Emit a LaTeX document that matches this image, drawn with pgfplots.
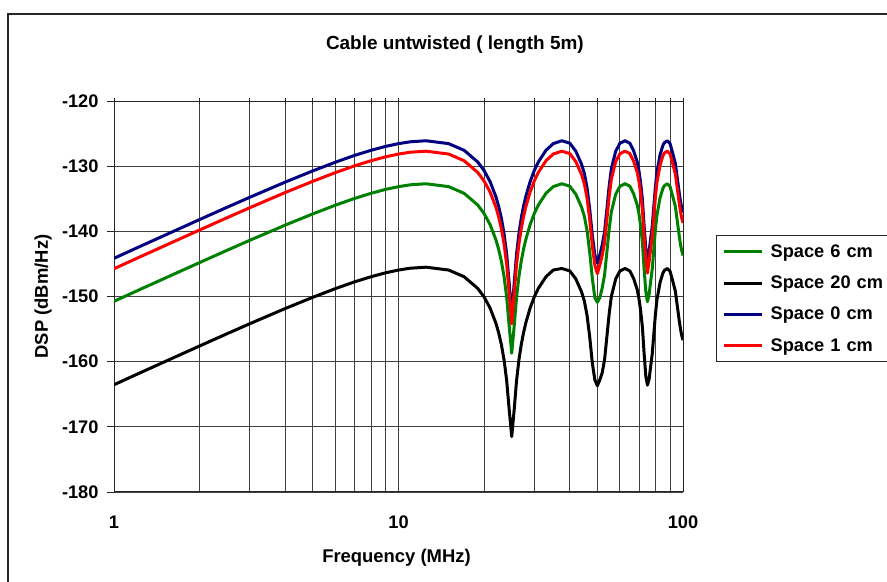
\documentclass[border=0pt]{standalone}
\usepackage{fontspec}
\setmainfont{Liberation Sans}
\usepackage{pgfplots}
\usepackage{pgfplotstable}
\pgfplotsset{compat=1.18}
\definecolor{cgreen}{RGB}{0,128,0}
\definecolor{cblue}{RGB}{0,0,128}
\definecolor{cred}{RGB}{255,0,0}

\pgfplotstableread{
f green black blue red
1 -150.74 -163.54 -144.14 -145.74
1.2 -149.16 -161.96 -142.56 -144.16
1.5 -147.25 -160.05 -140.65 -142.25
2 -144.79 -157.59 -138.19 -139.79
2.5 -142.90 -155.70 -136.30 -137.90
3 -141.38 -154.18 -134.78 -136.38
4 -139.04 -151.84 -132.44 -134.04
5 -137.32 -150.12 -130.72 -132.32
6 -135.99 -148.79 -129.39 -130.99
7 -134.96 -147.76 -128.36 -129.96
8 -134.17 -146.97 -127.57 -129.17
9 -133.57 -146.37 -126.97 -128.57
10 -133.14 -145.94 -126.54 -128.14
11 -132.86 -145.66 -126.26 -127.86
12.5 -132.70 -145.50 -126.10 -127.70
15 -133.14 -145.94 -126.54 -128.14
17 -134.16 -146.96 -127.56 -129.16
19 -135.97 -148.77 -129.37 -130.97
20 -137.28 -150.08 -130.68 -132.28
21 -139.00 -151.80 -132.40 -134.00
22 -141.30 -154.10 -134.70 -136.30
22.5 -142.79 -155.59 -136.19 -137.79
23 -144.61 -157.41 -138.01 -139.61
23.5 -146.95 -159.75 -140.35 -141.95
24 -150.09 -162.89 -143.49 -145.09
24.5 -154.60 -167.40 -148.00 -149.60
25 -158.70 -171.50 -153.00 -154.20
25.5 -154.60 -167.40 -148.00 -149.60
26 -150.09 -162.89 -143.49 -145.09
26.5 -146.95 -159.75 -140.35 -141.95
27 -144.61 -157.41 -138.01 -139.61
27.5 -142.79 -155.59 -136.19 -137.79
28 -141.30 -154.10 -134.70 -136.30
29 -139.00 -151.80 -132.40 -134.00
30 -137.28 -150.08 -130.68 -132.28
31 -135.97 -148.77 -129.37 -130.97
33 -134.16 -146.96 -127.56 -129.16
35 -133.14 -145.94 -126.54 -128.14
37.5 -132.70 -145.70 -126.10 -127.70
40 -133.07 -146.07 -126.47 -128.07
42 -134.30 -147.30 -127.70 -129.30
44 -136.30 -149.30 -129.70 -131.30
45 -137.70 -150.70 -131.10 -132.70
46 -139.90 -152.90 -133.30 -134.90
47 -143.20 -156.20 -136.60 -138.20
48 -147.20 -160.20 -140.60 -142.20
49 -150.20 -162.80 -143.60 -145.20
50 -150.90 -163.70 -144.90 -146.50
51 -150.20 -162.80 -143.60 -145.20
52 -148.70 -161.70 -142.10 -143.70
53 -146.70 -159.70 -140.10 -141.70
54 -143.20 -156.20 -136.60 -138.20
55 -139.70 -152.70 -133.10 -134.70
56 -137.00 -150.00 -130.40 -132.00
58 -134.30 -147.30 -127.70 -129.30
60 -133.10 -146.10 -126.50 -128.10
62.5 -132.70 -145.70 -126.10 -127.70
65 -133.06 -146.06 -126.46 -128.06
67 -134.20 -147.20 -127.60 -129.20
69 -135.90 -148.90 -129.30 -130.90
70 -137.30 -150.30 -130.70 -132.30
71 -139.20 -152.20 -132.60 -134.20
72 -141.70 -154.70 -135.10 -136.70
73 -145.70 -158.70 -139.10 -140.70
74 -149.20 -162.20 -142.60 -144.20
75 -150.80 -163.60 -144.40 -146.40
76 -149.70 -162.70 -143.10 -144.70
77 -147.70 -160.70 -141.10 -142.70
78 -145.70 -158.70 -139.10 -140.70
79 -142.70 -155.70 -136.10 -137.70
80 -139.70 -152.70 -133.10 -134.70
81 -137.50 -150.50 -130.90 -132.50
82 -136.20 -149.20 -129.60 -131.20
83 -134.90 -147.90 -128.30 -129.90
85 -133.40 -146.40 -126.80 -128.40
86 -133.00 -146.00 -126.40 -128.00
88 -132.70 -145.70 -126.10 -127.70
90 -133.10 -146.10 -126.50 -128.10
92 -134.60 -147.60 -128.00 -129.60
94 -136.20 -149.20 -129.60 -131.20
95 -137.70 -150.70 -131.10 -132.70
96 -139.20 -152.20 -132.60 -134.20
97 -140.70 -153.70 -134.10 -135.70
98 -142.00 -155.00 -135.40 -137.00
99 -143.00 -156.00 -136.40 -138.00
100 -143.70 -156.70 -137.10 -138.70
}\dsp

\begin{document}
\begin{tikzpicture}
\useasboundingbox (0,0) rectangle (887bp,582bp);
\draw[line width=1.5bp, black!85] (8bp,-10bp) -- (8bp,568bp) -- (900bp,568bp);
\begin{axis}[
  at={(114bp,90bp)}, anchor=south west,
  scale only axis, width=569bp, height=391bp,
  xmode=log, xmin=1, xmax=100, ymin=-180, ymax=-120,
  log basis x=10,
  xtick={1,10,100}, xticklabels={1,10,100},
  minor xtick={2,3,4,5,6,7,8,9,20,30,40,50,60,70,80,90},
  ytick={-180,-170,-160,-150,-140,-130,-120},
  yticklabels={-180,-170,-160,-150,-140,-130,-120},
  xmajorgrids, xminorgrids, ymajorgrids,
  major grid style={black!75, line width=0.8bp},
  minor grid style={black!75, line width=0.8bp},
  axis line style={black!85, line width=1bp},
  xtick pos=right, xticklabel pos=left,
  ytick pos=left,
  xtick align=center, ytick align=outside,
  major tick length=7bp, minor tick length=6bp,
  tick style={black!85, line width=0.8bp},
  ticklabel style={font=\fontsize{18.3}{20}\selectfont\bfseries},
  xticklabel style={yshift=-17bp},
  yticklabel style={xshift=-5bp},
  title={Cable untwisted ( length 5m)},
  title style={at={(axis description cs:0.599,1.128)}, anchor=center,
    font=\fontsize{19}{22}\selectfont\bfseries},
  xlabel={Frequency (MHz)},
  xlabel style={at={(axis description cs:0.4965,-0.168)}, anchor=center,
    font=\fontsize{18.5}{22}\selectfont\bfseries},
  ylabel={DSP (dBm/Hz)},
  ylabel style={at={(axis description cs:-0.1248,0.5)}, anchor=center,
    font=\fontsize{18.5}{22}\selectfont\bfseries},
  legend style={at={(axis description cs:1.058,0.657)}, anchor=north west,
    draw=black!85, line width=1.2bp,
    font=\fontsize{18.3}{20}\selectfont\bfseries,
    inner xsep=6bp, inner ysep=7bp, row sep=13bp,
    /tikz/every odd column/.append style={column sep=5bp},
    nodes={text width=140bp, align=left}},
  legend cell align=left,
  legend image code/.code={\draw[#1, line width=3bp] (0bp,0bp) -- (38bp,0bp);},
  every axis plot/.append style={line width=3bp, line join=round, no markers},
]
\addplot[cgreen] table[x=f, y=green] {\dsp};
\addlegendentry{Space 6 cm}
\addplot[black] table[x=f, y=black] {\dsp};
\addlegendentry{Space 20 cm}
\addplot[cblue] table[x=f, y=blue] {\dsp};
\addlegendentry{Space 0 cm}
\addplot[cred] table[x=f, y=red] {\dsp};
\addlegendentry{Space 1 cm}
\end{axis}
\end{tikzpicture}
\end{document}
